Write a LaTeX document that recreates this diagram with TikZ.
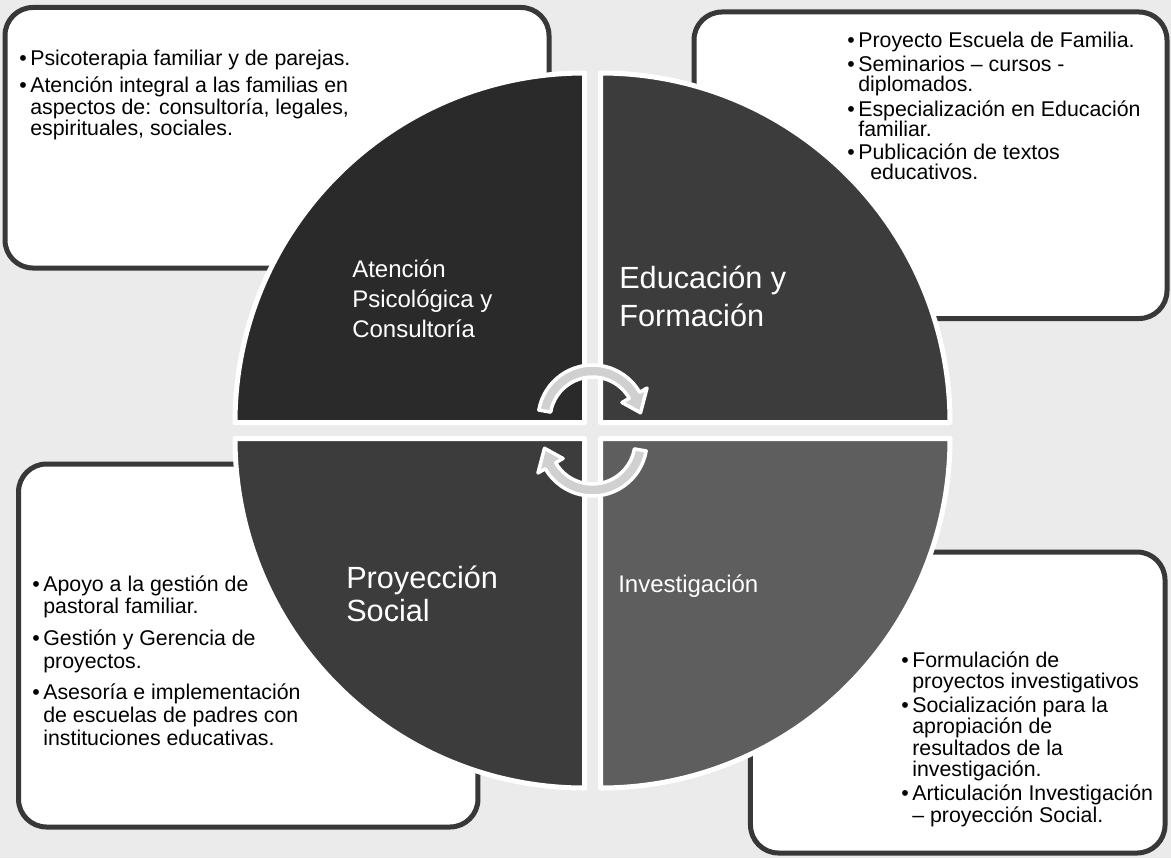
\documentclass[tikz,border=0pt]{standalone}
\usepackage{fontspec}
\setmainfont{Liberation Sans}
\usepackage{tikz}

\definecolor{fondo}{HTML}{EBEBEB}
\definecolor{borde}{HTML}{383838}
\definecolor{qaten}{HTML}{2A2A2A}
\definecolor{qeduc}{HTML}{3C3C3C}
\definecolor{qproy}{HTML}{3C3C3C}
\definecolor{qinve}{HTML}{5E5E5E}
\definecolor{giro}{HTML}{D0D0D0}

\newlength{\sangria}
\setlength{\sangria}{8.3pt}
\newcommand{\vi}{\makebox[\sangria][l]{\textbullet}}
\newcommand{\tab}{\hspace*{\sangria}}

\begin{document}
\begin{tikzpicture}[x = 0.75pt, y = -0.75pt, line join = round,
                      caja/.style = {rectangle, draw = borde, fill = white, line width = 3.75pt,
                                     rounded corners = 21pt, inner sep = 0pt},
                      lista/.style = {anchor = base west, align = left, inner sep = 0pt,
                                      font = \fontsize{16}{16.1}\selectfont},
                      cuarto/.style = {draw = white, line width = 3.75pt},
                      titulo/.style = {anchor = base west, align = left, inner sep = 0pt, text = white},
                      flecha/.style = {fill = giro, draw = white, line width = 2.6pt}]
    \fill[fondo] (0,0) rectangle (1171,858);
    \useasboundingbox (0,0) rectangle (1171,858);

    % cajas de texto (the anchor of each list is its last baseline)
    \node [caja, minimum width = 408pt, minimum height = 195.4pt] (cajaAten) at (277,137.75) {};
    \node [caja, minimum width = 354.75pt, minimum height = 229.9pt] (cajaEduc) at (930.5,165.25) {};
    \node [caja, minimum width = 344.6pt, minimum height = 272.25pt] (cajaProy) at (248.25,645.5) {};
    \node [caja, minimum width = 310.9pt, minimum height = 225.75pt] (cajaInve) at (957.75,702.5) {};

    \node [lista] (txtAten) at (19,135.5) {\vi Psicoterapia familiar y de parejas.\\[4.5pt]
      \vi Atención integral a las familias en\\
      \tab aspectos de: consultoría, legales,\\
      \tab espirituales, sociales.};
    \node [lista, font = \fontsize{16}{15}\selectfont] (txtEduc) at (847,179.5) {\vi Proyecto Escuela de Familia.\\[2.6pt]
      \vi Seminarios – cursos -\\
      \tab diplomados.\\[2.6pt]
      \vi Especialización en Educación\\
      \tab familiar.\\[2.6pt]
      \vi Publicación de textos\\
      \tab\hspace*{9pt}educativos.};
    \node [lista, font = \fontsize{16}{16.9}\selectfont] (txtProy) at (32,745) {\vi Apoyo a la gestión de\\
      \tab pastoral familiar.\\[7pt]
      \vi Gestión y Gerencia de\\
      \tab proyectos.\\[7pt]
      \vi Asesoría e implementación\\
      \tab de escuelas de padres con\\
      \tab instituciones educativas.};
    \node [lista] (txtInve) at (901,822) {\vi Formulación de\\
      \tab proyectos investigativos\\[1.7pt]
      \vi Socialización para la\\
      \tab apropiación de\\
      \tab resultados de la\\
      \tab investigación.\\[1.7pt]
      \vi Articulación Investigación\\
      \tab – proyección Social.};

    % circulo en cuatro partes
    \filldraw [cuarto, fill = qaten] (584.5,422.5) -- ++(-349.5,0)
      arc [start angle = 180, end angle = 270, radius = 349.5] -- cycle;
    \filldraw [cuarto, fill = qeduc] (600.5,422.5) -- ++(0,-349.5)
      arc [start angle = 270, end angle = 360, radius = 349.5] -- cycle;
    \filldraw [cuarto, fill = qinve] (600.5,438.5) -- ++(349.5,0)
      arc [start angle = 0, end angle = 90, radius = 349.5] -- cycle;
    \filldraw [cuarto, fill = qproy] (584.5,438.5) -- ++(0,349.5)
      arc [start angle = 90, end angle = 180, radius = 349.5] -- cycle;

    \node [titulo, font = \fontsize{18}{22.5}\selectfont] (tAten) at (352,337) {Atención\\Psicológica y\\Consultoría};
    \node [titulo, font = \fontsize{23}{28.5}\selectfont] (tEduc) at (619,326) {Educación y\\Formación};
    \node [titulo, font = \fontsize{23}{24.75}\selectfont] (tProy) at (346,621) {Proyección\\Social};
    \node [titulo, font = \fontsize{18}{22.5}\selectfont] (tInve) at (618,592) {Investigación};

    % flechas circulares
    \begin{scope}[shift = {(592.5,419.5)}]
      \filldraw [flecha] (190:54.5) arc [start angle = 190, end angle = 330, radius = 54.5]
        -- (330:63) -- (352:48.5) -- (330:34) -- (330:42.5)
        arc [start angle = 330, end angle = 190, radius = 42.5] -- cycle;
    \end{scope}
    \begin{scope}[shift = {(592.5,441.5)}]
      \filldraw [flecha] (10:54.5) arc [start angle = 10, end angle = 150, radius = 54.5]
        -- (150:63) -- (172:48.5) -- (150:34) -- (150:42.5)
        arc [start angle = 150, end angle = 10, radius = 42.5] -- cycle;
    \end{scope}
\end{tikzpicture}
\end{document}
